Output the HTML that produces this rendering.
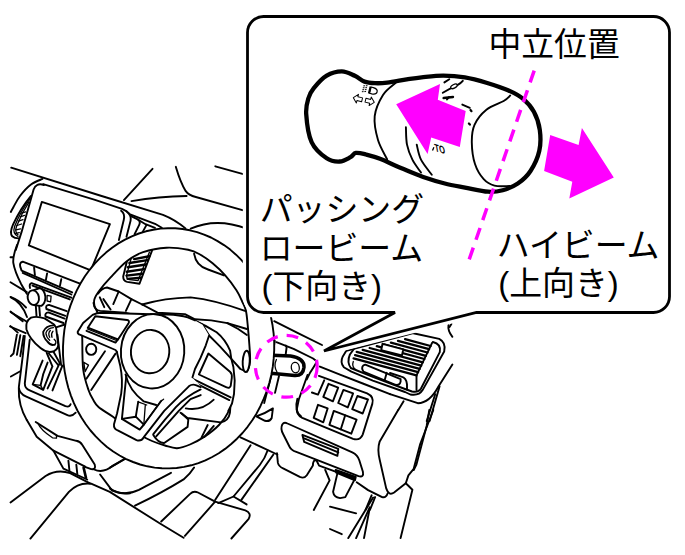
<!DOCTYPE html>
<html><head><meta charset="utf-8">
<style>
html,body{margin:0;padding:0;background:#fff;}
body{width:685px;height:555px;overflow:hidden;position:relative;}
svg{position:absolute;left:0;top:0;display:block;}
text{font-family:"Liberation Sans","Noto Sans CJK JP",sans-serif;fill:#000;}
.l{fill:none;stroke:#000;stroke-width:1.9;stroke-linecap:round;stroke-linejoin:round;}
.n{fill:none;stroke:#000;stroke-width:1.3;stroke-linecap:round;stroke-linejoin:round;}
.t{fill:none;stroke:#000;stroke-width:3.2;stroke-linecap:round;stroke-linejoin:round;}
.w{fill:#fff;stroke:#000;stroke-width:1.9;stroke-linecap:round;stroke-linejoin:round;}
.m{fill:#f0f;stroke:none;}
</style></head><body>
<svg width="685" height="555" viewBox="0 0 685 555">
<g id="car">
<path class="l"  d="M11.2 167.7 L100 195.5 L163 214.8 Q175 219.5 185.5 228.4"/>
<path class="l"  d="M43.2 184.2 L95 199.9 L122 208.9 Q127 211 130.1 214.3 L155 223.8 L161.8 227.8"/>
<path class="l"  d="M41.8 201.9 L109.9 224.2 L90.8 270.3 L28.8 245.4 Z"/>
<path class="l"  d="M42.5 178.9 C40.6 179.8 34.8 181.7 31.0 184.5 C27.2 187.3 22.9 192.2 20.0 196.0 C17.1 199.8 15.0 204.3 13.5 207.0 C12.0 209.7 11.2 211.2 10.8 212.0"/>
<path class="l"  d="M44 185 Q36 182.3 33.6 189.5 L31.7 196.2 L21.6 231.9 L15.8 250"/>
<path class="l"  d="M 31.0 195.9 Q 20.2 208.9 13.0 224.7 Q 9.4 232.7 12.2 236.3 Q 14.4 238.4 18.7 238.4"/>
<path class="n"  d="M 30.0 198.8 Q 20.2 211.8 14.7 226.2 Q 12.2 233.4 18.0 236.5"/>
<path class="n"  d="M 28.8 202.4 Q 21.6 213.2 16.6 226.2 Q 14.4 231.9 18.0 234.8"/>
<path class="n"  d="M 21.6 213.2 L 25.6 211.8"/>
<path class="n"  d="M 20.2 216.8 L 24.5 215.4"/>
<path class="n"  d="M 18.4 221.1 L 23.0 219.7"/>
<path class="n"  d="M 17.0 225.5 L 21.6 224.0"/>
<path class="n"  d="M 15.8 229.8 L 20.5 228.8"/>
<path class="n"  d="M 15.6 233.4 L 19.3 232.7"/>
<path class="l"  d="M 17.0 245.0 Q 12.7 256.4 13.3 262.8 Q 14.6 271.0 21.1 283.9 L 26.8 293.7"/>
<path class="l"  d="M 10.5 257.2 L 13.0 257.2"/>
<path class="l"  d="M 80.0 283.6 L 22.7 261.7 Q 19.1 262.5 20.3 266.9 L 21.6 270.6 L 72.2 292.4"/>
<path class="l"  d="M 22.7 272.9 L 71.4 294.5"/>
<path class="l"  d="M 34.1 267.7 L 34.9 275.0"/>
<path class="l"  d="M 47.1 273.4 L 45.9 279.9"/>
<path class="l"  d="M 61.3 279.1 L 60.0 285.6"/>
<path class="l"  d="M 71.4 297.7 L 31.6 283.1 Q 28.9 283.9 30.0 288.0"/>
<path class="l"  d="M 32.5 285.6 L 69.8 299.4"/>
<path class="n"  d="M 47.1 295.3 L 51.1 296.1 L 50.6 301.8 L 47.1 301.0 Z"/>
<path class="l"  d="M 10.5 282.3 L 26.8 292.1"/>
<path class="l"  d="M 10.5 296.9 Q 19.5 300.2 26.0 307.5"/>
<path class="l"  d="M 10.5 311.5 L 22.7 321.3"/>
<path class="l"  d="M 10.5 326.1 L 17.8 332.6"/>
<path class="w"  d="M 33.3 290.4 L 39.8 288.0 Q 44.6 289.6 45.4 296.9 Q 45.4 303.4 41.4 305.9 L 34.9 305.4"/>
<ellipse class="w" cx="33.3" cy="297.7" rx="5.6" ry="7.4" transform="rotate(-10 33.3 297.7)"/>
<path class="l"  d="M 123.9 200.1 L 152.5 168.8"/>
<path class="l"  d="M 175.8 166.8 Q 180.5 182.7 185.6 190.9 Q 188.7 195.4 195.8 197.0 L 246.9 211.3"/>
<path class="l"  d="M 215.3 166.3 L 246.9 175.1"/>
<path class="l"  d="M 131.5 201.1 Q 159.0 196.6 186.6 196.0"/>
<path class="l"  d="M 190.7 228.7 Q 216.3 217.4 246.9 228.7"/>
<path class="l"  d="M121.1 210.7 Q125.2 213.5 123.8 219.7 L118.9 240"/>
<path class="l"  d="M126.5 211.2 Q131.8 215.5 130.6 220.6 L126.5 236.8"/>
<path class="l"  d="M131 216.1 L138.2 219.7 Q140.8 221.8 139.1 225.1 L134.6 234.1"/>
<path class="l"  d="M138.2 219.7 L145.5 224.2 L155 227.8"/>
<path class="l"  d="M146.4 225.1 L142.7 231.9"/>
<path class="l"  d="M66.7 311.2 L49 304.9 Q45.2 305.2 46.4 309 L65.4 315.8"/>
<path class="l"  d="M64.6 318.6 L48.4 312.4 Q44.5 313 45.5 316.5 L63.5 323"/>
<path class="l"  d="M 10.8 297.4 Q 21.6 302.2 27.0 317.0"/>
<path class="l"  d="M 10.8 312.3 L 27.0 321.8"/>
<path class="l"  d="M 10.1 326.5 L 25.7 333.2"/>
<path class="l"  d="M 16.9 334.6 L 13.5 353.5 L 10.8 356.2"/>
<path class="l"  d="M 20.3 335.3 L 16.9 354.9"/>
<path class="l"  d="M 23.6 335.9 L 20.3 356.2"/>
<path class="l"  d="M 35.8 305.5 L 36.5 315.7"/>
<path class="l"  d="M 39.2 306.2 L 40.0 315.9"/>
<path class="l"  d="M 48.9 353.5 L 58.1 365.0"/>
<path class="l"  d="M 57.4 334.6 L 61.1 365.0"/>
<path class="l"  d="M 56.8 327.2 L 64.9 324.5"/>
<path class="w"  d="M 31.1 317.7 Q 25.4 320.8 26.4 329.2 Q 29.1 338.6 40.5 348.1 Q 47.3 353.8 54.1 351.1 Q 59.5 348.1 57.8 341.4 L 56.1 327.8 L 54.1 324.5 L 44.6 318.4 Q 36.5 315.7 31.1 317.7 Z"/>
<path class="l"  d="M 54.1 325.4 Q 45.9 325.4 43.2 331.9 Q 43.0 337.3 47.3 341.4 Q 50.7 346.1 54.7 344.7"/>
<path class="n"  d="M 53.4 327.6 Q 47.3 328.1 45.9 333.0 Q 46.2 337.3 49.7 340.3"/>
<path class="n"  d="M 50.3 330.5 Q 47.6 333.2 49.7 337.3"/>
<path class="n"  d="M 53.0 331.2 Q 50.7 333.9 52.0 337.3"/>
<path class="n"  d="M 54.7 344.7 Q 57.4 342.0 54.1 339.3"/>
<path class="l"  d="M 24.8 335.9 L 22.8 355.7 L 18.8 387.4 Q 19.4 393.7 25.8 396.3 L 67.4 415.1 Q 71.7 417.1 75.7 412.7"/>
<path class="l"  d="M 29.7 339.8 L 24.8 383.4 Q 24.8 388.4 29.7 390.4 L 65.4 406.2 Q 69.4 407.6 70.6 404.2"/>
<path class="l"  d="M 18.8 388.4 Q 18.2 405.2 26.8 420.1"/>
<path class="l"  d="M 10.9 376.5 L 19.8 371.5"/>
<path class="l"  d="M 46.6 352.7 L 52.5 366.6"/>
<path class="l"  d="M 53.5 351.7 L 59.5 362.6"/>
<path class="l"  d="M 42.6 360.6 L 32.7 384.4 L 43.2 389.8 L 51.9 367.6"/>
<path class="l"  d="M 47.6 362.6 Q 42.6 373.5 40.6 385.4"/>
<path class="n"  d="M 32.7 384.4 L 40.6 385.4 L 43.2 389.8"/>
<path class="l"  d="M 59.5 363.6 L 47.6 388.4"/>
<path class="l"  d="M 62.4 365.6 L 52.5 390.4"/>
<path class="l"  d="M 26.8 420.0 L 36.7 436.8 L 53.5 450.7 L 85.2 466.6"/>
<path class="l"  d="M 35.7 422.0 L 57.5 435.9 L 76.3 440.8 Q 80.3 441.4 82.2 444.8 L 94.7 464.6 Q 96.3 469.9 91.2 469.1 L 84.2 466.6"/>
<path class="n"  d="M 37.7 423.0 Q 40.6 429.9 52.5 437.8 L 56.5 438.2 L 56.5 435.5"/>
<path class="l"  d="M 53.5 450.7 L 63.4 468.6 L 87.2 479.5"/>
<path class="l"  d="M 68.4 460.6 L 69.4 470.5"/>
<path class="l"  d="M 76.3 464.6 L 77.3 473.9"/>
<path class="l" style="stroke-width:2.6" d="M 83.6 467.6 L 86.0 477.9"/>
<path class="l"  d="M10.5 502.4 L45.6 476 Q57.2 468.8 70.1 473.2 L90 483.3"/>
<path class="l"  d="M30.4 538.6 L68.9 491.9 Q78.3 482 91.1 483.7 L109.8 491.9 L160 523.5 L183.6 537.7"/>
<path class="l"  d="M 94.1 469.5 Q 103.1 473.9 113.0 465.6 L 130.0 455.7"/>
<path class="l"  d="M 100.1 474.5 L 112.0 490.4"/>
<path class="l"  d="M 112.0 490.4 Q 120.9 494.3 130.0 493.3"/>
<path class="l"  d="M 128.3 255.8 L 123.2 276.5 Q 123.2 281.0 127.2 281.9 L 139.5 283.7 L 152.1 250.4"/>
<path class="n"  d="M 131.4 257.6 L 126.5 275.6 Q 126.5 279.2 129.5 279.6 L 138.0 280.7 L 149.4 252.2"/>
<path class="l" style="stroke-width:2.4" d="M 134.1 259.1 L 149.4 256.2"/>
<path class="l" style="stroke-width:2.4" d="M 129.4 263.0 L 147.4 260.1"/>
<path class="l" style="stroke-width:2.4" d="M 127.9 267.3 L 145.9 264.5"/>
<path class="l" style="stroke-width:2.4" d="M 126.8 271.7 L 144.1 269.1"/>
<path class="l" style="stroke-width:2.4" d="M 126.5 275.6 L 142.3 273.8"/>
<path class="l" style="stroke-width:2.4" d="M 127.6 278.9 L 140.9 277.8"/>
<path class="l"  d="M346.3 350.8 L342.8 356.4 Q339.8 362.5 343.8 367.2 L351.4 371.6 L372.8 380.6 L405 392 L410.3 394.5 Q419.1 396 422.6 390.1 L444.2 351.5 Q446.3 342.5 439.2 338.9 L413.3 333.2 Z"/>
<path class="l"  d="M353.9 348.9 L349.9 354.5 Q346.6 362.1 350.8 368 L372.8 376.9 L405 389 L412 391.5 Q418.5 392.8 421 388.5 L439.8 352.1 Q441.3 343.9 432.9 342"/>
<path class="l"  d="M432.2 342.7 L416.5 375.4 L416.5 390"/>
<path class="l" style="stroke-width:2.3" d="M405.1 339.1 L430.6 346.0"/>
<path class="l" style="stroke-width:2.3" d="M398.0 340.9 L429.1 349.2"/>
<path class="l" style="stroke-width:2.3" d="M390.9 342.6 L427.5 352.5"/>
<path class="l" style="stroke-width:2.3" d="M383.9 344.4 L425.9 355.8"/>
<path class="l" style="stroke-width:2.3" d="M376.8 346.2 L424.4 359.0"/>
<path class="l" style="stroke-width:2.3" d="M369.7 348.0 L422.8 362.3"/>
<path class="l" style="stroke-width:2.3" d="M362.7 349.8 L421.2 365.6"/>
<path class="l" style="stroke-width:2.3" d="M356.7 351.9 L419.6 368.9"/>
<path class="l" style="stroke-width:2.3" d="M355.1 355.1 L418.1 372.1"/>
<path class="l" style="stroke-width:2.3" d="M353.6 358.4 L416.5 375.4"/>
<path class="w"  d="M382.5 343.8 L403.3 349.3 L402 355.3 L381.2 350.2 Z"/>
<path class="n"  d="M353.3 361.5 Q351.4 366.5 355.8 369.7"/>
<path class="l"  d="M390 373 L401.3 376.7 Q406.4 378 407 384.3 L407 389.5"/>
<path class="l"  d="M363.4 365.3 Q360.9 367.8 363.4 371.6 L395.5 384.8 Q399.9 385.6 400.6 381.7 L400.6 379.1 L365.3 364.6 Z"/>
<path class="l"  d="M386.7 372.8 L384.8 379.8"/>
<path class="l"  d="M 307.5 375.0 L 298.8 399.5 L 297.0 408.3 Q 296.1 414.6 302.3 417.9 L 353.1 438.9 Q 360.1 440.9 362.7 434.6 L 372.3 403.9 Q 374.4 396.7 367.1 393.4 L 318.9 375.9"/>
<path class="l" style="stroke-linejoin:round" d="M 328.5 383.8 L 338.2 387.6 L 332.9 401.3 L 323.3 396.9 Z"/>
<path class="l" style="stroke-linejoin:round" d="M 343.4 389.9 L 353.1 393.4 L 347.8 407.4 L 338.2 403.0 Z"/>
<path class="l" style="stroke-linejoin:round" d="M 357.4 396.0 L 368.0 399.5 L 362.7 413.5 L 352.2 409.2 Z"/>
<path class="l" style="stroke-linejoin:round" d="M 318.0 404.8 L 327.7 408.3 L 323.3 422.3 L 313.7 417.9 Z"/>
<path class="l" style="stroke-linejoin:round" d="M 333.8 410.9 L 356.6 419.7 L 351.3 433.7 L 329.4 424.9 Z"/>
<path class="l"  d="M 345.2 415.3 L 340.8 429.3"/>
<path class="l"  d="M 324.2 380.3 L 318.0 394.6 L 311.9 392.5"/>
<path class="l"  d="M403.6 401.3 L398.3 410"/>
<path class="l"  d="M274.2 321.2 L298.5 333.4 L322 345"/>
<path class="l"  d="M276.4 342.2 L293.6 348.8 L313.1 358.5 L317 361.5 Q312 370 310.1 372.6 L306.8 379.4"/>
<path class="l"  d="M274.7 340.8 L270.3 372.6"/>
<path class="l"  d="M285.8 345.6 L286.6 347.5 L285.6 355"/>
<path class="l"  d="M271.6 374.6 L264.2 403"/>
<path class="l"  d="M279 376 L275 392.9"/>
<path class="n"  d="M276.4 359.5 Q273.3 366 277 372"/>
<ellipse class="n" cx="295.3" cy="367.6" rx="4" ry="5.2" transform="rotate(-8 295.3 367.6)"/>
<path class="t" style="stroke-width:3.5" d="M272.3 355.2 L290.5 355.9 Q304.5 358 304 367.2 Q303 376 294.6 375.6 L271 373.3"/>
<path class="l"  d="M 256.3 416.3 Q 265.0 413.7 272.9 408.4 L 271.7 418.0 Q 269.9 421.9 265.0 420.8 Z"/>
<path class="l"  d="M 240.5 437.3 L 277.3 454.5"/>
<path class="l"  d="M 297.4 398.8 Q 293.9 411.0 301.0 416.3"/>
<path class="l"  d="M 448.5 324.9 Q 447.5 330.8 452.4 336.8"/>
<path class="l"  d="M 451.4 323.9 L 449.5 327.0"/>
<path class="l"  d="M 452.4 364.5 L 438.6 386.3 Q 429.6 403.2 417.8 403.2 L 390.0 394.2"/>
<path class="l"  d="M390 394.2 L362.8 383.5 L340 374.6 L319.9 366.6"/>
<path class="l"  d="M 439.6 386.3 L 429.6 421.0"/>
<path class="l"  d="M 435.2 394.2 L 426.7 421.0"/>
<path class="l"  d="M 398.2 410.0 L 379.7 441.4 Q 377.1 449.2 379.7 459.7 L 386.2 488.4 Q 388.8 496.3 394.1 492.4 L 405.8 483.2 L 408.4 475.4 L 413.7 468.8 L 420.2 444.0 L 433.3 410.0"/>
<path class="l"  d="M 429.3 410.0 L 426.7 425.7 L 416.3 464.9 L 413.7 470.1"/>
<path class="l"  d="M 405.8 483.2 L 412.4 489.7 L 400.6 538.1"/>
<path class="l"  d="M 373.1 497.6 L 348.3 538.1"/>
<path class="l"  d="M 369.7 507.3 L 356.1 538.1"/>
<path class="l"  d="M 369.2 510.7 L 364.0 538.1"/>
<path class="l"  d="M 330.0 506.7 L 356.1 513.3"/>
<path class="l"  d="M 330.0 529.0 L 341.8 534.2"/>
<path class="l"  d="M 282.3 424.4 Q 280.2 428.8 283.1 434.0 L 289.3 446.3 Q 291.0 450.1 296.3 451.9 L 358.5 476.1 Q 364.1 477.8 362.9 471.7 L 359.3 460.3 Q 357.6 455.0 352.3 452.4 L 287.5 423.5 Q 284.0 421.8 282.3 424.4 Z"/>
<path class="l"  d="M 302.4 434.9 L 338.3 448.9 L 337.4 455.9 L 304.2 441.9 Z"/>
<path class="l"  d="M 304.2 438.4 L 338.3 452.4"/>
<path class="l"  d="M 277.0 453.3 L 277.9 462.9 Q 278.8 466.6 283.1 468.4 L 299.8 476.9 Q 304.2 478.9 306.8 475.2 L 312.9 465.6 Q 312.9 459.4 316.4 460.3 L 319.1 465.6 L 336.2 471.9"/>
<path class="l" style="fill:#000" d="M 335.7 469.9 L 355.8 476.9 L 355.0 480.4 L 336.2 472.6 Z"/>
<path class="l"  d="M 337.4 473.4 L 333.1 491.8 Q 333.8 497.1 340.1 498.1 L 345.3 497.1 L 354.1 480.4"/>
<path class="l"  d="M 325.2 469.9 L 329.6 480.4 L 313.8 510.0"/>
<path class="l"  d="M 356.7 482.2 L 368.1 490.1 L 382.1 497.1 Q 386.0 498.1 387.7 493.2"/>
<path class="l"  d="M 371.6 495.3 L 365.5 510.0"/>
<path class="l"  d="M 375.1 497.1 L 369.9 510.0"/>
<path class="l"  d="M 110.0 467.6 L 129.7 456.3"/>
<path class="l"  d="M 110.0 488.6 Q 123.1 497.3 138.9 489.9 L 171.0 472.8"/>
<path class="l"  d="M 135.0 505.7 Q 162.5 492.5 183.6 479.4 Q 190.1 474.2 194.1 467.6"/>
<path class="l"  d="M 161.2 521.5 L 190.1 493.9 Q 193.6 490.4 198.0 492.5 L 215.1 501.7 L 184.9 535.9"/>
<path class="l"  d="M 215.1 501.7 L 245.3 510.4 Q 251.9 513.0 248.7 518.8 L 231.4 538.5"/>
<path class="l"  d="M 250.6 445.3 L 215.1 499.9"/>
<path class="l"  d="M 267.6 450.5 Q 265.0 458.4 259.8 465.0 L 233.5 496.5 L 218.3 503.1"/>
<path class="l"  d="M 233.5 496.5 L 246.6 504.4"/>
<path class="l"  d="M 273.4 454.5 L 241.4 499.9"/>
<path class="w" fill-rule="evenodd" d="M175.3 228.3 L182.6 229.0 L189.9 230.3 L197.1 232.1 L204.1 234.6 L211.0 237.5 L217.6 241.1 L224.0 245.1 L230.2 249.6 L236.0 254.7 L241.5 260.2 L246.7 266.1 L251.4 272.4 L255.8 279.1 L259.8 286.1 L263.3 293.4 L266.3 301.0 L268.9 308.8 L270.9 316.8 L272.5 325.0 L273.6 333.3 L274.2 341.6 L274.2 350.0 L273.7 358.4 L272.8 366.7 L271.3 374.9 L269.3 383.1 L266.8 391.0 L263.8 398.7 L260.4 406.2 L256.6 413.4 L252.3 420.3 L247.6 426.8 L242.5 433.0 L237.0 438.7 L231.2 444.0 L225.1 448.9 L218.8 453.2 L212.2 457.0 L205.4 460.3 L198.4 463.1 L191.2 465.3 L184.0 466.9 L176.6 468.0 L169.3 468.4 L161.9 468.3 L154.6 467.6 L147.3 466.3 L140.1 464.5 L133.1 462.0 L126.2 459.1 L119.6 455.5 L113.2 451.5 L107.0 447.0 L101.2 441.9 L95.7 436.4 L90.5 430.5 L85.8 424.2 L81.4 417.5 L77.4 410.5 L73.9 403.2 L70.9 395.6 L68.3 387.8 L66.3 379.8 L64.7 371.6 L63.6 363.3 L63.0 355.0 L63.0 346.6 L63.5 338.2 L64.4 329.9 L65.9 321.7 L67.9 313.5 L70.4 305.6 L73.4 297.9 L76.8 290.4 L80.6 283.2 L84.9 276.3 L89.6 269.8 L94.7 263.6 L100.2 257.9 L106.0 252.6 L112.1 247.7 L118.4 243.4 L125.0 239.6 L131.8 236.3 L138.8 233.5 L146.0 231.3 L153.2 229.7 L160.6 228.6 L167.9 228.2 Z M82.8 331.0 C84.0 328.0 87.0 324.8 89.5 322.0 C92.0 319.2 96.7 317.2 97.5 314.5 C98.3 311.8 95.0 308.6 94.5 306.0 C94.0 303.4 93.6 301.7 94.5 299.0 C95.4 296.3 97.1 293.6 99.8 290.0 C102.5 286.4 106.1 282.2 110.6 277.4 C115.1 272.6 121.4 265.4 126.8 261.2 C132.2 257.0 136.5 254.4 143.1 252.2 C149.7 249.9 159.0 248.1 166.5 247.7 C174.0 247.3 182.5 248.7 188.1 249.8 C193.7 250.9 195.9 252.2 200.0 254.5 C204.1 256.8 208.4 259.8 212.6 263.3 C216.8 266.8 221.2 270.8 225.2 275.3 C229.2 279.8 233.6 285.8 236.6 290.4 C239.6 295.0 241.3 299.6 242.9 303.0 C244.5 306.4 245.2 307.3 246.0 311.0 C246.8 314.7 247.1 319.5 247.7 325.0 C248.2 330.5 248.9 337.8 249.3 344.0 C249.7 350.2 250.5 357.2 250.0 362.0 C249.5 366.8 248.5 369.8 246.5 372.5 C244.5 375.2 240.4 375.4 238.0 378.0 C235.6 380.6 233.2 384.2 232.0 388.0 C230.8 391.8 231.3 396.4 230.6 400.5 C229.9 404.6 229.7 408.7 227.8 412.8 C225.9 416.9 222.8 421.1 219.0 425.0 C215.2 428.9 209.8 433.1 205.0 436.4 C200.2 439.6 194.7 442.5 190.0 444.5 C185.3 446.5 181.2 448.0 177.0 448.2 C172.8 448.4 169.2 446.7 165.0 445.5 C160.8 444.3 156.2 442.8 152.0 441.0 C147.8 439.2 144.5 437.5 140.0 435.0 C135.5 432.5 129.6 429.1 125.0 426.0 C120.4 422.9 117.0 419.7 112.6 416.5 C108.2 413.3 101.7 409.8 98.5 407.0 C95.3 404.2 95.0 402.8 93.3 400.0 C91.6 397.2 90.2 395.1 88.5 390.0 C86.8 384.9 84.2 377.8 83.2 369.5 C82.2 361.2 82.4 346.4 82.3 340.0 C82.2 333.6 81.6 334.0 82.8 331.0 Z"/>
<path class="l"  d="M 93.5 303.0 Q 94.4 310.2 100.2 310.9 L 125.0 312.7 L 142.2 317.1"/>
<path class="l"  d="M 98.0 293.6 Q 101.6 288.2 107.0 287.5 L 118.7 291.5 L 131.4 299.1 L 142.2 304.5"/>
<path class="l"  d="M142.2 304.5 Q165 298 190.6 297.4 Q215 300 245.7 311.2"/>
<path class="l"  d="M142.2 304.5 L157.5 312.7 L184.9 314.1 L195 319.3 L211.2 320.4 L227.4 323.1 L246.9 329"/>
<path class="l"  d="M227.4 323.1 L238.2 329 L246.9 335"/>
<path class="l"  d="M194.1 253.7 Q196 266 208 269.5 L223.9 275.4"/>
<path class="l"  d="M 118.7 291.5 L 113.3 304.1"/>
<path class="l"  d="M 131.4 299.1 L 125.9 310.9"/>
<path class="l"  d="M 99.8 297.3 L 104.3 307.2"/>
<path class="l"  d="M 103.4 299.1 L 110.6 309.5"/>
<path class="l"  d="M 153.3 434.2 L 165.0 419.6 L 175.9 407.2 Q 186.1 396.3 200.7 389.4"/>
<path class="l"  d="M 156.2 436.4 L 178.8 410.9 L 190.5 399.2 L 200.7 395.1"/>
<path class="l"  d="M 153.3 435.0 Q 158.4 443.3 164.2 443.0 L 187.6 426.9 L 188.3 419.6 L 181.8 413.5"/>
<path class="l"  d="M180.5 412.8 L187.5 418 L220.8 422.4 Q228.7 420.7 229.9 412.8 L230.4 406.6"/>
<path class="l"  d="M185.8 408.4 Q201.5 411.5 213.8 399.6"/>
<path class="l"  d="M207.7 425 L201.5 437.7"/>
<path class="l"  d="M213.8 425.9 L204.2 437"/>
<path class="w" style="stroke:none" d="M195 320.5 L216.6 332.3 L230 350 L240.4 369 L247 372 L250 372.5 L250 380 L234 394 L232 403.5 L228.6 410.3 L191.5 381.2 L209 335.5 Z"/>
<path class="l"  d="M195 320.5 L202.6 324.7 L209.1 335.5 L219.9 346.4 L231.8 359.3 L240.4 369 L246.9 371.8"/>
<ellipse class="w" cx="246.2" cy="361.4" rx="3.5" ry="10.6" transform="rotate(3 246.2 361.4)"/>
<path class="l"  d="M195 321 Q206 325.5 216.6 332.3 Q225 339 230.1 350.7 L231.2 358.2 L233.4 367 L234.7 380.5 L234 394 L232 403.5 L228.6 410.3"/>
<path class="l"  d="M 208.4 353.5 L 230.0 371.8 Q 232.2 373.8 231.8 377.8 L 230.7 385.9 Q 229.3 388.9 226.6 387.3 L 198.9 374.5 Z"/>
<path class="l"  d="M 192.8 378.9 L 230.7 397.4"/>
<path class="l"  d="M 191.5 381.2 L 229.3 400.1"/>
<path class="w" style="stroke:none" d="M102 312.8 L150.7 314.2 L167.5 314.5 Q180 315 187.7 317.4 L195 320.5 L202.6 324.7 L209.1 335.5 L205.8 345.3 L200.4 358.2 L195 369 L191.5 380.5 L190 389 L150 430 L120 425 L118 360 Z"/>
<path class="l"  d="M150.7 314.2 L167.5 314.5 Q180 315 187.7 317.4 L195 320.5"/>
<path class="l"  d="M209.1 335.5 L205.8 345.3 L200.4 358.2 L195 369 L191.5 380.5"/>
<path class="w" style="stroke:none" d="M 116.9 352.3 L 120.3 366.1 Q 123.1 380.2 121.2 393.6 L 117.1 413.2 L 114.0 424.3 Q 113.4 428.7 118.2 430.7 L 136.5 440.1 Q 141.2 441.8 143.8 437.2 L 164.2 410.9 L 181.8 393.4 L 189.1 386.1 Q 192.3 383.7 196.4 385.3 L 202.2 387.5 L 193.4 378.8 L 173.0 367.1 Z"/>
<path class="l"  d="M 116.9 352.3 L 120.3 366.1 Q 123.1 380.2 121.2 393.6 L 117.1 413.2 L 114.0 424.3 Q 113.4 428.7 118.2 430.7 L 136.5 440.1 Q 141.2 441.8 143.8 437.2 L 164.2 410.9 L 181.8 393.4 L 189.1 386.1 Q 192.3 383.7 196.4 385.3 L 200.7 387.1"/>
<path class="l"  d="M 126.3 375.8 L 121.9 418.9 L 139.7 429.6 L 143.8 424.7 L 161.3 400.7"/>
<path class="l"  d="M 121.9 418.9 L 135.8 416.7 L 143.8 424.7"/>
<path class="l"  d="M 135.8 416.7 L 138.2 401.8"/>
<path class="n"  d="M 138.2 401.8 L 146.7 405.0"/>
<path class="n"  d="M 143.8 424.7 L 145.3 405.0"/>
<path class="n"  d="M 142.3 426.6 L 160.6 401.4 L 163.6 399.2"/>
<path class="l"  d="M 125.5 374.4 Q 129.2 390.4 143.8 401.4 L 156.2 405.0"/>
<path class="w"  d="M 165.0 316.5 L 150.7 314.2 L 102.0 312.8 Q 96.6 312.8 92.6 314.9 L 83.1 323.0 L 77.7 331.8 Q 77.4 334.1 80.4 334.9 L 115.5 350.0 L 117.2 352.2"/>
<path class="l"  d="M 95.3 316.2 L 127.0 320.0 Q 130.1 320.5 128.4 323.6 L 118.0 339.5 L 87.8 327.7 Z"/>
<path class="l"  d="M 86.5 330.8 L 115.5 342.6 L 118.0 339.5"/>
<path class="n"  d="M 87.4 328.9 L 116.4 340.5"/>
<ellipse class="l" cx="91.2" cy="349.3" rx="5.1" ry="5.6"/>
<path class="n"  d="M 83.8 362.2 L 88.5 365.1 L 85.1 371.6 Z"/>
<path class="l"  d="M105 351.2 L86.4 378.8"/>
<path class="l"  d="M115.5 353.6 L91.2 390"/>
<ellipse class="w" cx="152.6" cy="351.3" rx="31.7" ry="37.2" transform="rotate(4 152.6 351.3)"/>
<ellipse class="w" cx="150.1" cy="351.6" rx="19.2" ry="21.7" transform="rotate(4 150.1 351.6)"/>
</g>
<g id="callout">
<path class="t" style="fill:#fff;stroke:#fff;stroke-width:9.4;stroke-linejoin:miter" id="halo" d="M263.5 16.5 H653.5 A16 16 0 0 1 669.5 32.5 V296.5 A16 16 0 0 1 653.5 312.5 H476.5 L324 351 L395 312.5 H263.5 A16 16 0 0 1 247.5 296.5 V32.5 A16 16 0 0 1 263.5 16.5 Z"/>
<path class="t" style="fill:#fff;stroke-width:2.8;stroke-linejoin:miter" d="M263.5 16.5 H653.5 A16 16 0 0 1 669.5 32.5 V296.5 A16 16 0 0 1 653.5 312.5 H476.5 L324 351 L395 312.5 H263.5 A16 16 0 0 1 247.5 296.5 V32.5 A16 16 0 0 1 263.5 16.5 Z"/>
<text x="488.5" y="56.4" font-size="32.8">中立位置</text>
<text x="259.7" y="221" font-size="32.9">パッシング</text>
<text x="259.7" y="260" font-size="32.9">ロービーム</text>
<text x="261.5" y="298.3" font-size="32.9">(下向き)</text>
<text x="496.7" y="257" font-size="32.9">ハイビーム</text>
<text x="498.2" y="294.7" font-size="32.9">(上向き)</text>
<circle id="mcirc" cx="286.3" cy="366.3" r="30.9" fill="none" stroke="#f0f" stroke-width="3.2" stroke-dasharray="11.76 9.06"/>
<path class="t" style="fill:#fff;stroke-width:4.3" d="M306.2 114.0 C305.7 106.7 307.2 102.3 308.5 98.0 C309.8 93.7 310.8 91.8 313.8 88.1 C316.8 84.4 322.0 78.4 326.7 75.6 C331.4 72.8 337.1 71.4 341.8 71.4 C346.5 71.4 351.0 74.1 354.8 75.8 C358.6 77.5 361.1 80.4 364.5 81.6 C367.9 82.8 371.2 83.0 375.0 83.2 C378.8 83.4 381.9 83.3 387.2 82.7 C392.5 82.1 401.0 80.3 406.7 79.4 C412.4 78.5 415.5 77.9 421.6 77.3 C427.7 76.7 436.0 75.6 443.2 75.6 C450.4 75.6 457.6 76.1 464.8 77.3 C472.0 78.5 479.2 80.5 486.4 82.7 C493.6 84.9 501.9 87.5 508.0 90.2 C514.1 92.9 518.8 95.3 523.1 98.9 C527.4 102.5 531.1 106.6 533.9 111.8 C536.7 117.0 538.9 123.5 539.8 130.0 C540.7 136.5 540.8 144.0 539.3 150.8 C537.8 157.6 534.1 165.5 530.5 171.0 C526.9 176.5 522.4 180.4 517.8 183.6 C513.2 186.8 507.7 188.8 502.7 190.2 C497.7 191.5 494.1 192.1 488.0 191.7 C481.9 191.3 473.6 189.2 466.4 187.8 C459.2 186.4 452.0 185.3 444.8 183.5 C437.6 181.7 430.4 179.5 423.2 177.0 C416.0 174.5 408.8 171.3 401.6 168.3 C394.4 165.3 385.9 161.1 380.0 158.8 C374.1 156.5 370.0 155.5 366.0 154.5 C362.0 153.5 358.5 152.5 355.9 152.9 C353.3 153.3 353.2 155.8 350.5 157.2 C347.8 158.6 343.7 161.3 339.7 161.5 C335.7 161.7 331.4 161.5 326.7 158.3 C322.0 155.1 315.0 149.5 311.6 142.1 C308.2 134.7 306.7 121.3 306.2 114.0 Z"/>
<path class="l"  d="M395.9 82.7 C393.8 84.8 386.5 89.4 383.0 95.0 C379.5 100.6 375.5 108.7 374.7 116.2 C373.9 123.7 375.9 132.8 378.0 140.0 C380.1 147.2 385.7 156.2 387.2 159.4"/>
<path class="l"  d="M510.2 95.6 C509.1 96.5 507.7 98.7 503.7 101.0 C499.7 103.3 491.3 105.7 486.4 109.7 C481.5 113.7 476.9 119.3 474.5 124.8 C472.1 130.2 471.7 135.9 471.8 142.4 C471.9 148.9 473.0 157.9 475.0 164.0 C477.0 170.1 480.4 175.5 483.7 179.1 C486.9 182.7 490.2 184.4 494.5 185.6 C498.8 186.8 507.1 185.9 509.6 186.0"/>
<path class="l"  d="M405.9 127.3 C406.1 130.2 405.9 139.2 407.0 144.6 C408.1 150.0 410.1 155.0 412.4 159.7 C414.7 164.4 419.6 170.4 421.0 172.6"/>
<path class="l"  d="M416.7 144.6 C417.4 147.1 418.5 154.7 421.0 159.7 C423.5 164.7 430.0 172.3 431.8 174.8"/>
<path class="l"  d="M444.4 82.4 L449.3 79.2"/>
<path class="l"  d="M442.8 92.7 Q450 88.5 457.4 85.1 Q461 83 462.8 80.8"/>
<ellipse class="n" cx="454" cy="86.3" rx="3.6" ry="1.8" transform="rotate(-28 454 86.3)" style="fill:#fff"/>
<path class="l" style="stroke-width:2.4" d="M443.6 98 L453 97"/>
<path class="l" style="stroke-width:2" d="M447 99.5 L449 97"/>
<path class="l"  d="M462.3 104.6 L469.8 107.8"/>
<path class="l" style="stroke-width:2.2" d="M470.5 110 L471.5 111.2"/>
<path class="l" style="stroke-width:2.2" d="M468.9 123.5 L469.9 124.6"/>
<text transform="matrix(0.672 0.193 0.169 0.986 435.3 151.3)" font-size="11.2" font-weight="bold">TO</text><path d="M432.5 150.6 L433.9 147.3" stroke="#000" stroke-width="1.3" fill="none"/>
<g transform="translate(368.2 89.6) rotate(14)" fill="none" stroke="#000" stroke-linejoin="round"><path d="M2.2 -3.2 L4.5 -3.2 Q9.2 -3 9.2 0 Q9.2 3 4.5 3.2 L2.2 3.2 Z" stroke-width="1.2"/><path d="M1.5 -3.6 L1.5 3.6" stroke-width="1.9"/><path d="M-1.6 -3.6 L-6.4 -2.2 M-1.6 -1.6 L-6.4 -0.2 M-1.6 0.4 L-6.4 1.8 M-1.6 2.4 L-6.4 3.8" stroke-width="0.9" stroke-dasharray="1.7 0.8"/></g>
<g transform="translate(358 98.8) rotate(14)" fill="#fff" stroke="#000" stroke-width="1" stroke-linejoin="round"><path d="M-4.8 0 L-0.6 -4.4 L-0.6 -2 L4.2 -2 L4.2 2 L-0.6 2 L-0.6 4.4 Z"/></g>
<g transform="translate(369.6 101.2) rotate(14)" fill="#fff" stroke="#000" stroke-width="1" stroke-linejoin="round"><path d="M4.8 0 L0.6 -4.4 L0.6 -2 L-4.2 -2 L-4.2 2 L0.6 2 L0.6 4.4 Z"/></g>
<path class="m"  d="M396.2 104.2 L440 84.1 L437.8 99.7 L465.7 111.1 L459.8 147.1 L431.2 137.5 L427.6 153.9 Z"/>
<path class="m"  d="M550.2 134.9 L578.6 145.1 L581.9 128 L613.8 177.6 L569.3 198.6 L572.3 181.7 L544.1 170.9 Z"/>
<path class="l" style="stroke:#f0f;stroke-width:3.5;stroke-dasharray:12.5 8.3;stroke-linecap:butt" d="M534.2 70.6 L469.2 259.5"/>
</g>
</svg>
</body></html>
